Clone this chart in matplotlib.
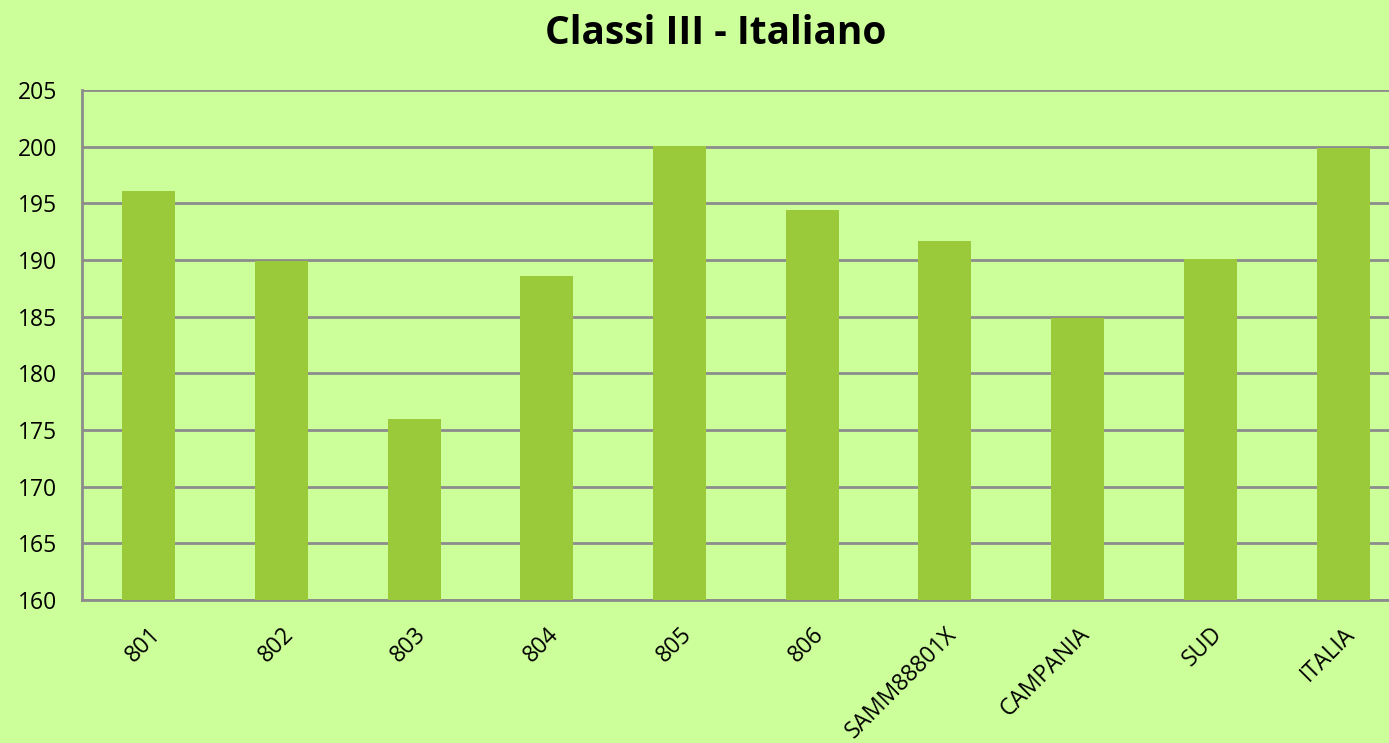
import matplotlib.pyplot as plt
import numpy as np

# dati del grafico
categorie = ["801", "802", "803", "804", "805", "806", "SAMM88801X", "CAMPANIA", "SUD", "ITALIA"]
punteggi = [196.1, 189.9, 176.0, 188.6, 200.1, 194.4, 191.7, 184.9, 190.1, 199.9]
tick_y = [160, 165, 170, 175, 180, 185, 190, 195, 200, 205]

sfondo = "#CCFF99"
verde_barre = "#9ACA3A"
grigio = "#8C8C8C"

plt.rcParams['font.family'] = ['Open Sans', 'DejaVu Sans']

fig = plt.figure(figsize=(13.89, 7.43), dpi=100, facecolor=sfondo)
ax = fig.add_axes([0.0593, 0.1925, 0.9554, 0.6864], facecolor=sfondo)

x = np.arange(len(categorie))
ax.bar(x, punteggi, width=0.4, color=verde_barre, zorder=3)

ax.set_xlim(-0.5, len(categorie) - 0.5)
ax.set_ylim(160, 205)
ax.set_yticks(tick_y)
ax.set_yticklabels([str(v) for v in tick_y], fontsize=16.5)
ax.yaxis.grid(True, color=grigio, linewidth=2, zorder=0)
ax.set_axisbelow(True)

ax.set_xticks(x)
ax.set_xticklabels(categorie, rotation=45, ha="right", rotation_mode="anchor", fontsize=16.5)
ax.tick_params(axis="both", length=0)
ax.tick_params(axis="x", pad=16)
ax.tick_params(axis="y", pad=18)

for lato in ["top", "right"]:
    ax.spines[lato].set_visible(False)
for lato in ["left", "bottom"]:
    ax.spines[lato].set_color(grigio)
    ax.spines[lato].set_linewidth(2)

fig.text(0.515, 0.955, "Classi III - Italiano", ha="center", va="center",
         fontsize=28, fontweight="bold")

fig.savefig("out.png", dpi=100, facecolor=sfondo)
